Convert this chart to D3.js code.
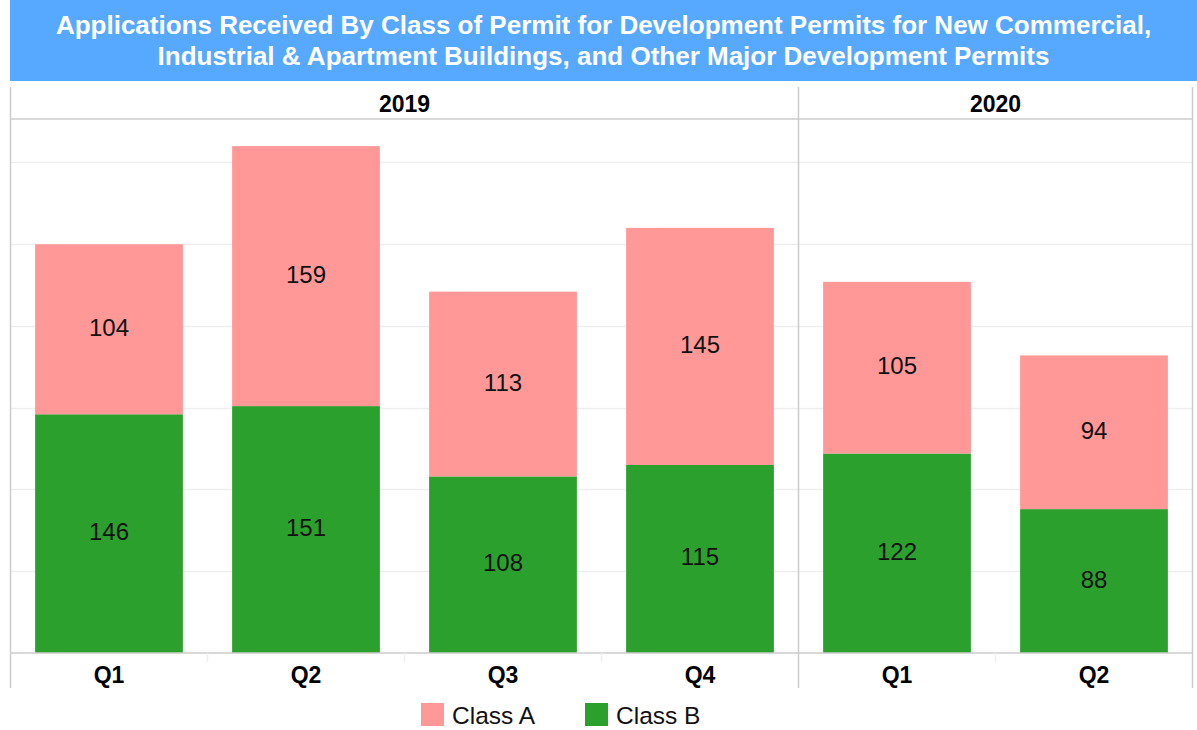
<!DOCTYPE html>
<html>
<head>
<meta charset="utf-8">
<script src="https://cdnjs.cloudflare.com/ajax/libs/d3/7.8.5/d3.min.js"></script>
<style>
  body { margin: 0; background: #fff; }
  svg { font-family: "Liberation Sans", Arial, sans-serif; display: block; }
</style>
</head>
<body>
<svg id="chart" width="1197" height="730"></svg>
<script>
// data
var years = ["2019", "2019", "2019", "2019", "2020", "2020"];
var quarters = ["Q1", "Q2", "Q3", "Q4", "Q1", "Q2"];
var classB = [146, 151, 108, 115, 122, 88];
var classA = [104, 159, 113, 145, 105, 94];
var yearGroups = ["2019", "2020"];
var yTicks = [50, 100, 150, 200, 250, 300];
var titleLines = [
  "Applications Received By Class of Permit for Development Permits for New Commercial,",
  "Industrial & Apartment Buildings, and Other Major Development Permits"
];

var svg = d3.select("#chart"),
  width = +svg.attr("width"),
  height = +svg.attr("height");

var left = 10.5, right = 1192.5,
  headTop = 87, headBottom = 119,
  base = 653, footBottom = 688;

// title band
svg.append("rect")
  .attr("x", 10).attr("y", 0)
  .attr("width", width - 10).attr("height", 81)
  .attr("fill", "#57a9ff");
svg.selectAll(".title")
  .data(titleLines)
  .enter().append("text")
    .attr("x", (10 + width) / 2)
    .attr("y", function(d, i) { return 34 + i * 31; })
    .attr("text-anchor", "middle")
    .attr("fill", "#fff")
    .style("font-weight", "bold")
    .style("font-size", "26px")
    .text(function(d) { return d; });

var idx = d3.range(quarters.length);
var x = d3.scaleBand()
  .domain(idx)
  .range([left, right])
  .paddingInner(0.25)
  .paddingOuter(0.125);
var step = x.step();

var y = d3.scaleLinear()
  .domain([0, 326.6])
  .range([base, headBottom]);

// gridlines
svg.append("g")
  .selectAll("line")
  .data(yTicks)
  .enter().append("line")
    .attr("x1", left).attr("x2", right)
    .attr("y1", function(d) { return Math.round(y(d)) + 0.5; })
    .attr("y2", function(d) { return Math.round(y(d)) + 0.5; })
    .attr("stroke", "#eeeeee")
    .attr("stroke-width", 1.5);

// stacked bars
var stacked = idx.map(function(i) {
  return { i: i, b: classB[i], a: classA[i] };
});
var stack = d3.stack().keys(["b", "a"])(stacked);
var colors = { b: "#2ca02c", a: "#ff9896" };

var layers = svg.append("g")
  .selectAll("g")
  .data(stack)
  .enter().append("g")
    .attr("fill", function(d) { return colors[d.key]; });

layers.selectAll("rect")
  .data(function(d) { return d; })
  .enter().append("rect")
    .attr("x", function(d) { return x(d.data.i); })
    .attr("y", function(d) { return y(d[1]); })
    .attr("width", x.bandwidth())
    .attr("height", function(d) { return y(d[0]) - y(d[1]); });

layers.selectAll("text")
  .data(function(d) { return d; })
  .enter().append("text")
    .attr("x", function(d) { return x(d.data.i) + x.bandwidth() / 2; })
    .attr("y", function(d) { return (y(d[0]) + y(d[1])) / 2 + 6.5; })
    .attr("text-anchor", "middle")
    .attr("fill", "#111")
    .style("font-size", "24px")
    .text(function(d) { return d[1] - d[0]; });

// frame lines
var frame = svg.append("g").attr("stroke", "#cccccc").attr("stroke-width", 1.5);
frame.append("line").attr("x1", left).attr("x2", left).attr("y1", headTop).attr("y2", footBottom);
frame.append("line").attr("x1", right).attr("x2", right).attr("y1", headTop).attr("y2", footBottom);
frame.append("line").attr("x1", left).attr("x2", right).attr("y1", headBottom).attr("y2", headBottom);
frame.append("line").attr("x1", left).attr("x2", right).attr("y1", base).attr("y2", base);
var sepX = left + 4 * step;
frame.append("line").attr("x1", sepX).attr("x2", sepX).attr("y1", headTop).attr("y2", footBottom);

// small separators between quarter cells
svg.append("g")
  .selectAll("line")
  .data([1, 2, 3, 5])
  .enter().append("line")
    .attr("x1", function(d) { return left + d * step; })
    .attr("x2", function(d) { return left + d * step; })
    .attr("y1", base).attr("y2", base + 9)
    .attr("stroke", "#eeeeee")
    .attr("stroke-width", 1.5);

// year header
var yearSpan = yearGroups.map(function(g) {
  var members = idx.filter(function(i) { return years[i] === g; });
  return { name: g, x0: left + members[0] * step, x1: left + (members[members.length - 1] + 1) * step };
});
svg.selectAll(".year")
  .data(yearSpan)
  .enter().append("text")
    .attr("x", function(d) { return (d.x0 + d.x1) / 2; })
    .attr("y", 111.5)
    .attr("text-anchor", "middle")
    .attr("fill", "#000")
    .style("font-weight", "bold")
    .style("font-size", "23px")
    .text(function(d) { return d.name; });

// quarter labels
svg.selectAll(".quarter")
  .data(idx)
  .enter().append("text")
    .attr("x", function(i) { return x(i) + x.bandwidth() / 2; })
    .attr("y", 683)
    .attr("text-anchor", "middle")
    .attr("fill", "#000")
    .style("font-weight", "bold")
    .style("font-size", "23px")
    .text(function(i) { return quarters[i]; });

// legend
var legendItems = [
  { label: "Class A", color: colors.a, x: 421 },
  { label: "Class B", color: colors.b, x: 585 }
];
var lg = svg.append("g").selectAll("g")
  .data(legendItems)
  .enter().append("g")
    .attr("transform", function(d) { return "translate(" + d.x + ",703)"; });
lg.append("rect")
  .attr("width", 23).attr("height", 23)
  .attr("fill", function(d) { return d.color; });
lg.append("text")
  .attr("x", 31).attr("y", 20.5)
  .attr("fill", "#111")
  .style("font-size", "24.5px")
  .text(function(d) { return d.label; });
</script>
</body>
</html>
